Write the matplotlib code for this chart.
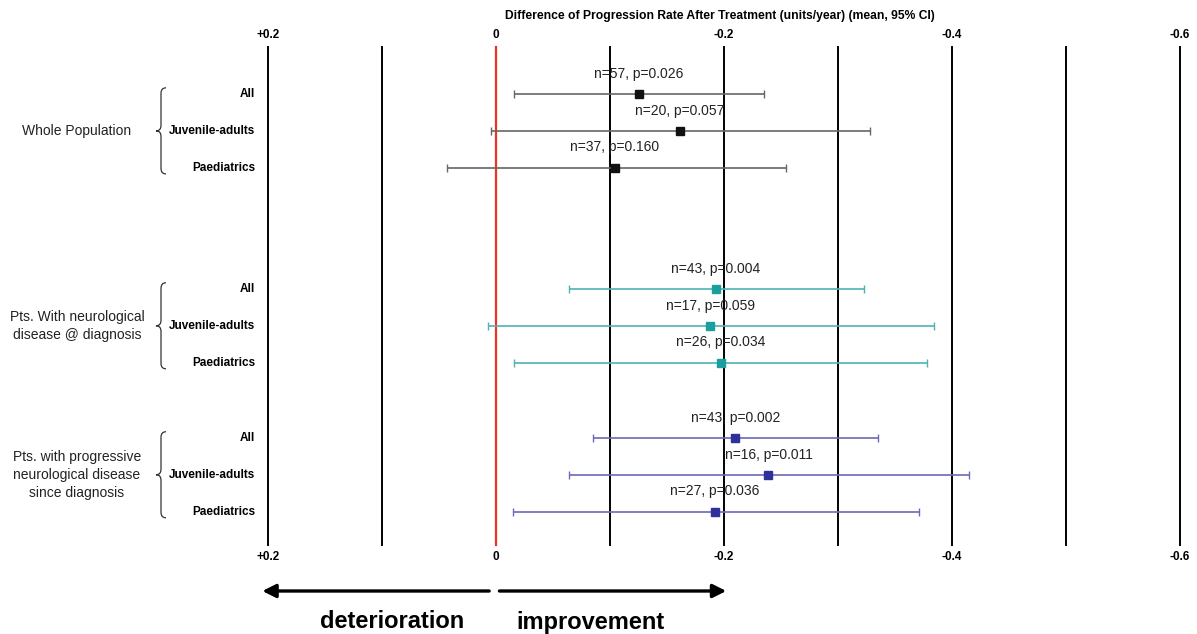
import matplotlib.pyplot as plt
import matplotlib.transforms as mtransforms
from matplotlib.path import Path
from matplotlib.patches import PathPatch
import numpy as np

plt.rcParams['font.family'] = ['Liberation Sans', 'DejaVu Sans']

# improvement in progression rate (positive = slower progression)
groups = ["Whole Population",
          "Pts. With neurological\ndisease @ diagnosis",
          "Pts. with progressive\nneurological disease\nsince diagnosis"]
subgroups = ["All", "Juvenile-adults", "Paediatrics"]
group_start = [0.0, 5.3, 9.35]

means = [[0.125, 0.161, 0.104],
         [0.193, 0.188, 0.197],
         [0.210, 0.239, 0.192]]
ci_low = [[0.016, -0.004, -0.043],
          [0.064, -0.007, 0.016],
          [0.085, 0.064, 0.015]]
ci_high = [[0.235, 0.328, 0.254],
           [0.323, 0.384, 0.378],
           [0.335, 0.415, 0.371]]
n_obs = [[57, 20, 37],
         [43, 17, 26],
         [43, 16, 27]]
p_vals = ["0.026", "0.057", "0.160",
          "0.004", "0.059", "0.034",
          "0.002", "0.011", "0.036"]

ticks = [-0.2, 0.0, 0.2, 0.4, 0.6]
tick_labels = ["+0.2", "0", "-0.2", "-0.4", "-0.6"]
grid_x = np.round(np.arange(-0.2, 0.61, 0.1), 2)

marker_colors = ["#111111", "#1a9e9e", "#30309a"]
line_colors = ["#666666", "#4fb3b3", "#6a6ab8"]

fig = plt.figure(figsize=(11.97, 6.34), dpi=100)
ax = fig.add_axes([268 / 1197, 1 - 545 / 634, 912 / 1197, 498 / 634])
ax.set_xlim(-0.2, 0.6)
ax.set_ylim(12.26, -1.28)
for s in ax.spines.values():
    s.set_visible(False)
ax.set_yticks([])
ax.set_xticks(ticks)
ax.set_xticklabels(tick_labels, fontsize=8.5, fontweight='bold')
ax.tick_params(axis='x', length=0, top=True, labeltop=True, pad=4)

for gx in grid_x:
    if gx == 0:
        ax.axvline(gx, color="#f03020", lw=1.6, zorder=1, clip_on=False)
    else:
        ax.axvline(gx, color="black", lw=1.4, zorder=1, clip_on=False)

ax.text(720 / 1197, 1 - 16 / 634, "Difference of Progression Rate After Treatment (units/year) (mean, 95% CI)",
        transform=fig.transFigure, ha='center', va='center', fontsize=8.7, fontweight='bold')

left_tr = mtransforms.blended_transform_factory(fig.transFigure, ax.transData)

def brace(y_top, y_bot, x_pix, color="#333333"):
    # left-pointing curly brace in figure pixels horizontally, data units vertically
    xf = x_pix / 1197
    w = 5 / 1197
    mid = (y_top + y_bot) / 2
    d = 0.15
    verts = [(xf + w, y_top), (xf, y_top), (xf, y_top + d),
             (xf, mid - d),
             (xf, mid), (xf - w, mid),
             (xf, mid), (xf, mid + d),
             (xf, y_bot - d),
             (xf, y_bot), (xf + w, y_bot)]
    codes = [Path.MOVETO, Path.CURVE3, Path.CURVE3,
             Path.LINETO,
             Path.CURVE3, Path.CURVE3,
             Path.CURVE3, Path.CURVE3,
             Path.LINETO,
             Path.CURVE3, Path.CURVE3]
    ax.add_patch(PathPatch(Path(verts, codes), transform=left_tr, fill=False,
                           lw=0.9, color=color, clip_on=False))

k = 0
for g, name in enumerate(groups):
    ys = [group_start[g] + i for i in range(3)]
    for i, y in enumerate(ys):
        m = means[g][i]
        ax.errorbar(m, y, xerr=[[m - ci_low[g][i]], [ci_high[g][i] - m]],
                    fmt='none', ecolor=line_colors[g], elinewidth=1.2,
                    capsize=3, capthick=1, zorder=3)
        ax.plot(m, y, marker='s', ms=5.5, color=marker_colors[g],
                linestyle='none', zorder=4)
        ax.annotate(f"n={n_obs[g][i]}, p={p_vals[k]}", (m, y), xytext=(0, 14.5),
                    textcoords='offset points', ha='center', va='center',
                    fontsize=10, color="#222222")
        ax.text(255 / 1197, y, subgroups[i], transform=left_tr, ha='right',
                va='center', fontsize=8.5, fontweight='bold')
        k += 1
    brace(ys[0] - 0.17, ys[-1] + 0.17, 161)
    ax.text(77 / 1197, ys[1], name, transform=left_tr, ha='center', va='center',
            fontsize=10, linespacing=1.35, color="#222222")

# direction arrows below the axis
bot_tr = mtransforms.blended_transform_factory(ax.transData, fig.transFigure)
arrow_y = 1 - 591 / 634
ax.annotate("", xy=(-0.205, arrow_y), xytext=(-0.006, arrow_y), xycoords=bot_tr,
            textcoords=bot_tr, arrowprops=dict(arrowstyle='-|>', lw=2.4, color='black',
                                               mutation_scale=20, shrinkA=0, shrinkB=0))
ax.annotate("", xy=(0.202, arrow_y), xytext=(0.003, arrow_y), xycoords=bot_tr,
            textcoords=bot_tr, arrowprops=dict(arrowstyle='-|>', lw=2.4, color='black',
                                               mutation_scale=20, shrinkA=0, shrinkB=0))
ax.text(-0.091, 1 - 622 / 634, "deterioration", transform=bot_tr, ha='center',
        va='center', fontsize=17, fontweight='bold')
ax.text(0.083, 1 - 622 / 634, "improvement", transform=bot_tr, ha='center',
        va='center', fontsize=17, fontweight='bold')

fig.savefig("out.png", dpi=100)
